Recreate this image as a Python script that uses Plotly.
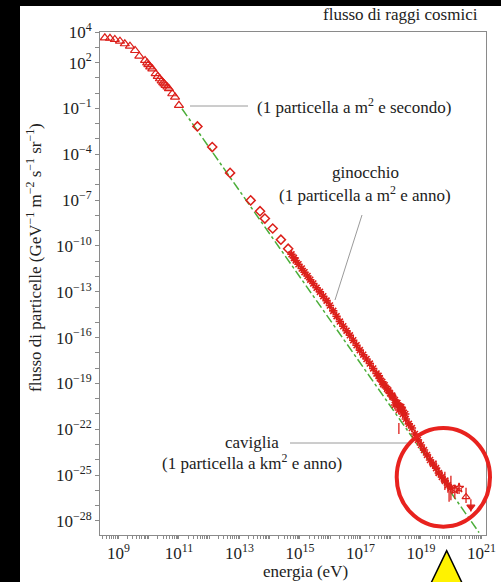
import plotly.graph_objects as go

# ---------------- data (log10 values) ----------------
# low-energy data: open triangles
tri_logE = [8.55, 8.72, 8.88, 9.05, 9.21, 9.38, 9.55, 9.69, 9.88, 9.95, 9.99, 10.05, 10.12, 10.23,
            10.30, 10.37, 10.43, 10.48, 10.52, 10.56, 10.62, 10.67, 10.78, 10.87, 11.00]
tri_logF = [3.62, 3.59, 3.51, 3.40, 3.23, 3.07, 2.79, 2.42, 2.14, 1.98, 1.86, 1.72, 1.59, 1.27,
            1.10, 0.94, 0.80, 0.68, 0.60, 0.50, 0.40, 0.29, -0.04, -0.26, -0.80]

# intermediate energies: open diamonds
dia_logE = [11.61, 12.10, 12.69, 13.37, 13.68, 13.84, 14.10, 14.37, 14.61]
dia_logF = [-2.18, -3.53, -5.22, -7.02, -7.73, -8.21, -8.86, -9.59, -10.18]

# knee region: dense asterisks
knee_logE = [14.72, 14.80, 14.86, 14.95, 15.06, 15.15, 15.25, 15.34, 15.44, 15.55, 15.66, 15.77,
             15.88, 15.99, 16.10, 16.21, 16.32, 16.43, 16.54, 16.65, 16.76, 16.87, 16.98, 17.09,
             17.20, 17.31, 17.42, 17.53, 17.60, 17.64, 17.72, 17.75, 17.80, 17.88, 17.92, 17.98,
             18.05, 18.06, 18.14, 18.20, 18.22, 18.31, 18.35, 18.40, 18.48]
knee_logF = [-10.55, -10.78, -10.95, -11.20, -11.48, -11.72, -11.97, -12.21, -12.46, -12.74, -13.01, -13.29,
             -13.58, -13.90, -14.25, -14.60, -14.95, -15.26, -15.55, -15.85, -16.17, -16.50, -16.82, -17.12,
             -17.40, -17.70, -18.02, -18.35, -18.50, -18.67, -18.90, -19.05, -19.12, -19.36, -19.45, -19.65,
             -19.80, -19.88, -20.08, -20.30, -20.28, -20.52, -20.55, -20.76, -21.00]

# ankle region: points with error bars (errors in decades)
ankle_logE = [18.14, 18.27, 18.40, 18.50, 18.60, 18.70, 18.80, 18.90, 19.00, 19.10,
              19.20, 19.30, 19.40, 19.50, 19.59, 19.69, 19.79, 19.89, 19.99]
ankle_logF = [-20.41, -20.74, -21.00, -21.33, -21.65, -21.92, -22.31, -22.70, -23.03, -23.36,
              -23.68, -24.01, -24.27, -24.54, -24.86, -25.12, -25.38, -25.65, -25.84]
ankle_err = [0.10, 0.10, 0.15, 0.10, 0.20, 0.15, 0.30, 0.20, 0.40, 0.30,
             0.20, 0.40, 0.30, 0.50, 0.30, 0.40, 0.60, 0.50, 0.80]

# highest-energy points
ext_logE = [20.12, 20.26, 20.49, 20.65]
ext_logF = [-25.95, -25.84, -26.43, -27.08]
ext_up = [0.3, 0.3, 0.6, 0.5]
ext_dn = [0.6, 0.4, 0.4, 0.3]
ext_sym = ["star-open", "star-open", "triangle-up-open", "triangle-down"]

# stray error-bar marks
stray_logE = [18.27, 19.93]
stray_logF = [-21.95, -26.38]
outside_logE = [21.31]
outside_logF = [-28.25]

# green dash-dot reference power law (end points)
ref_logE = [11.10, 20.92]
ref_logF = [-1.02, -28.76]

x_tick_exp = [9, 11, 13, 15, 17, 19, 21]
y_tick_exp = [4, 2, -1, -4, -7, -10, -13, -16, -19, -22, -25, -28]

# ---------------- figure ----------------
RED = "#dc1f1a"
FONT = "Liberation Serif"
W, H = 501, 582
OX, OY = 20, 6            # black scan border (left / top)
L, R, T, B = 100, 486, 32, 535   # plot frame in pixels


def px(x):
    return (x - L) / (R - L)


def py(y):
    return 1 - (y - T) / (B - T)


def p10(v):
    return [10.0 ** a for a in v]


fig = go.Figure()

fig.add_trace(go.Scatter(x=p10(ref_logE), y=p10(ref_logF), mode="lines",
                         line=dict(color="#4cae3a", width=1.5, dash="dashdot"), hoverinfo="skip"))

fig.add_trace(go.Scatter(x=p10(tri_logE), y=p10(tri_logF), mode="markers",
                         marker=dict(symbol="triangle-up-open", size=8, color=RED, line=dict(width=1.2, color=RED))))

fig.add_trace(go.Scatter(x=p10(dia_logE), y=p10(dia_logF), mode="markers",
                         marker=dict(symbol="diamond-open", size=7, color=RED, line=dict(width=1.5, color=RED))))

fig.add_trace(go.Scatter(x=p10(knee_logE), y=p10(knee_logF), mode="markers",
                         marker=dict(symbol="asterisk-open", size=7, color=RED, line=dict(width=1.6, color=RED))))

aF = p10(ankle_logF)
fig.add_trace(go.Scatter(x=p10(ankle_logE), y=aF, mode="markers",
                         error_y=dict(type="data", symmetric=False,
                                      array=[f * (10 ** e - 1) for f, e in zip(aF, ankle_err)],
                                      arrayminus=[f * (1 - 10 ** -e) for f, e in zip(aF, ankle_err)],
                                      color=RED, thickness=1.3, width=0),
                         marker=dict(symbol="asterisk-open", size=7, color=RED, line=dict(width=1.6, color=RED))))

eF = p10(ext_logF)
fig.add_trace(go.Scatter(x=p10(ext_logE), y=eF, mode="markers",
                         error_y=dict(type="data", symmetric=False,
                                      array=[f * (10 ** e - 1) for f, e in zip(eF, ext_up)],
                                      arrayminus=[f * (1 - 10 ** -e) for f, e in zip(eF, ext_dn)],
                                      color=RED, thickness=1.3, width=0),
                         marker=dict(symbol=ext_sym, size=7, color=RED, line=dict(width=1.2, color=RED))))

fig.add_trace(go.Scatter(x=p10(stray_logE), y=p10(stray_logF), mode="markers",
                         marker=dict(symbol="line-ns-open", size=8, color=RED, line=dict(width=1.3, color=RED))))

fig.add_trace(go.Scatter(x=p10(outside_logE), y=p10(outside_logF), mode="markers", cliponaxis=False,
                         marker=dict(symbol="line-ns-open", size=5, color=RED, line=dict(width=1.3, color=RED))))

# ticks
xt_vals, xt_text = [], []
for n in range(8, 22):
    for m in range(1, 10):
        v = float(m) * 10.0 ** n
        xt_vals.append(v)
        xt_text.append(f"10<sup>{n}</sup>" if (m == 1 and n in x_tick_exp) else "")
yt_vals, yt_text = [], []
for k in range(-29, 5):
    yt_vals.append(10.0 ** k)
    yt_text.append((f"10<sup>{str(k).replace('-', '−')}</sup>") if k in y_tick_exp else "")

AX = dict(showline=True, linecolor="#8a8a8a", linewidth=1, mirror=True, showgrid=False, zeroline=False,
          ticks="outside", tickcolor="#8a8a8a", tickwidth=1, automargin=False,
          tickfont=dict(family=FONT, size=17, color="#222"))

fig.update_xaxes(type="log", range=[8.39, 21.15], tickmode="array", tickvals=xt_vals, ticktext=xt_text,
                 ticklen=3, **AX)
fig.update_yaxes(type="log", range=[-28.92, 4.0], tickmode="array", tickvals=yt_vals, ticktext=yt_text,
                 ticklen=4, **AX)

ann_font = dict(family=FONT, size=17, color="#222")
annotations = [
    dict(text="flusso di raggi cosmici", x=px(400), y=py(15)),
    dict(text="(1 particella a m<sup>2</sup> e secondo)", x=px(255), y=py(106), xanchor="left"),
    dict(text="ginocchio", x=px(365), y=py(172)),
    dict(text="(1 particella a m<sup>2</sup> e anno)", x=px(365), y=py(194)),
    dict(text="caviglia", x=px(252), y=py(442)),
    dict(text="(1 particella a km<sup>2</sup> e anno)", x=px(252), y=py(462)),
    dict(text="energia (eV)", x=px(305), y=py(571)),
    dict(text="flusso di particelle (GeV<sup>−1</sup> m<sup>−2</sup> s<sup>−1</sup> sr<sup>−1</sup>)",
         x=px(34), y=py(258), textangle=-90),
]
for a in annotations:
    a.setdefault("xanchor", "center")
    fig.add_annotation(xref="paper", yref="paper", showarrow=False, yanchor="middle", font=ann_font, **a)

GRAY = dict(color="#9a9a9a", width=1)
shapes = [
    # white scanned page on a black background
    dict(type="rect", x0=px(OX), x1=px(W + 5), y0=py(H + 5), y1=py(OY), fillcolor="white",
         line=dict(width=0), layer="below"),
    dict(type="line", x0=px(190), y0=py(106), x1=px(248), y1=py(106), line=GRAY),
    dict(type="line", x0=px(362), y0=py(215), x1=px(335), y1=py(300), line=GRAY),
    dict(type="line", x0=px(290), y0=py(443), x1=px(410), y1=py(443), line=GRAY),
    dict(type="circle", x0=px(396.7), x1=px(490), y0=py(526.7), y1=py(428), line=dict(color="#e8221e", width=4)),
    dict(type="path",
         path=f"M {px(446.7)},{py(550.7)} L {px(419)},{py(608)} L {px(474)},{py(608)} Z",
         fillcolor="#fff200", line=dict(color="#000", width=1.5)),
]
for s in shapes:
    s.setdefault("layer", "above")
    fig.add_shape(xref="paper", yref="paper", **s)

fig.update_layout(template="none", width=W, height=H,
                  margin=dict(l=L, r=W - R, t=T, b=H - B),
                  paper_bgcolor="black", plot_bgcolor="white", showlegend=False,
                  font=dict(family=FONT))

fig.write_html("out.html", config={"displayModeBar": False},
               post_script=("document.body.style.margin='0';"
                            "document.body.style.padding='0';"
                            "document.body.style.background='black';"))
